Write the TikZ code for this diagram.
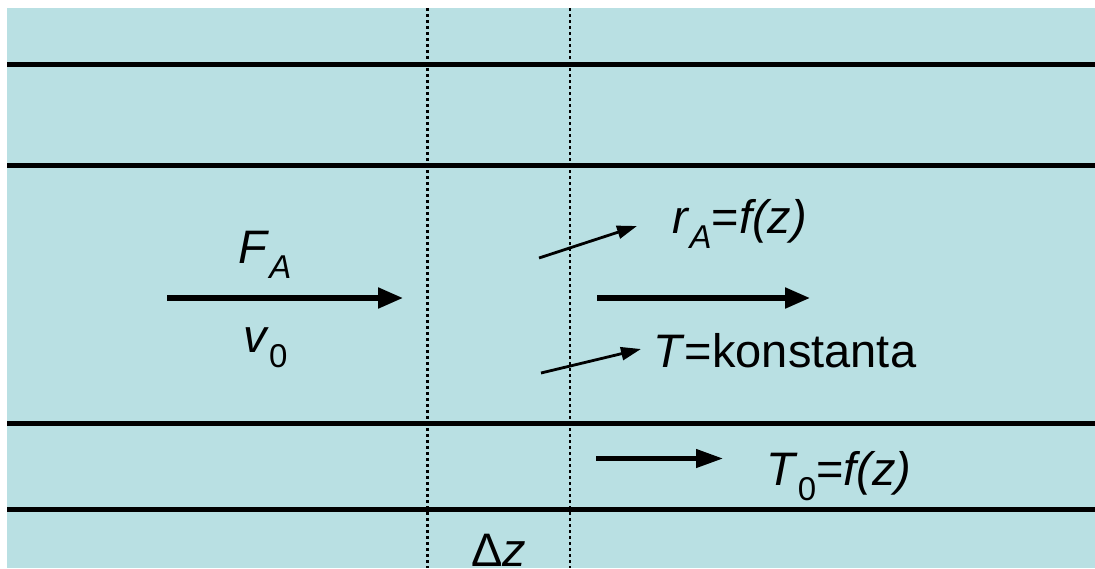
\documentclass[tikz,border=0pt]{standalone}
\usepackage{fontspec}
\setmainfont{Liberation Sans}
\usetikzlibrary{arrows.meta}
\definecolor{bgblue}{RGB}{185,224,227}
\newcommand{\mysub}[1]{\raisebox{-0.32em}{\fontsize{16.5}{16.5}\selectfont #1}}
\begin{document}
\begin{tikzpicture}[x=0.5pt,y=-0.5pt,
  lbl/.style={inner sep=0pt, anchor=base west, font=\fontsize{23.5}{28}\selectfont},
  layerline/.style={line width=2.5pt, black},
  gridline/.style={line width=1.25pt, black, dash pattern=on 1.5pt off 1.5pt},
  bigarrow/.style={line width=2.6pt, -{Triangle[length=12.5pt,width=10pt]}},
  midarrow/.style={line width=2.2pt, -{Triangle[length=13.5pt,width=9pt]}},
  thinarrow/.style={line width=1.4pt, -{Triangle[length=10pt,width=6.5pt]}}]
\useasboundingbox (0,0) rectangle (1095,568);
\fill[bgblue] (7,8) rectangle (1095,568);
% layer lines
\foreach \yy in {64,165.5,423.5,509.5}
  \draw[layerline] (7,\yy) -- (1095,\yy);
% dotted element boundaries
\coordinate (d1t) at (427.5,8); \coordinate (d1b) at (427.5,568);
\coordinate (d2t) at (570,8); \coordinate (d2b) at (570,568);
\draw[gridline] (d1t) -- (d1b);
\draw[gridline] (d2t) -- (d2b);
% arrows
\coordinate (fa0) at (167,298); \coordinate (fa1) at (403,298);
\draw[bigarrow] (fa0) -- (fa1);
\coordinate (m0) at (597,298); \coordinate (m1) at (810,298);
\draw[bigarrow] (m0) -- (m1);
\coordinate (t0) at (596,458.5); \coordinate (t1) at (723,458.5);
\draw[midarrow] (t0) -- (t1);
\coordinate (r0) at (539,258); \coordinate (r1) at (637,226);
\draw[thinarrow] (r0) -- (r1);
\coordinate (k0) at (541,373); \coordinate (k1) at (641,349);
\draw[thinarrow] (k0) -- (k1);
% labels
\node[lbl] (FA) at (238,263) {\textit{F}\mysub{\textit{A}}};
\node[lbl] (v0) at (243,352) {\textit{v}\mysub{0}};
\node[lbl] (rA) at (672,233) {\textit{r}\mysub{\textit{A}}=\textit{f(z)}};
\node[lbl] (Tk) at (653,367) {\textit{T}=konstanta};
\node[lbl] (T0) at (766,485) {\textit{T}\mysub{0}=\textit{f(z)}};
\node[lbl] (dz) at (471,566) {Δ\textit{z}};
\end{tikzpicture}
\end{document}
